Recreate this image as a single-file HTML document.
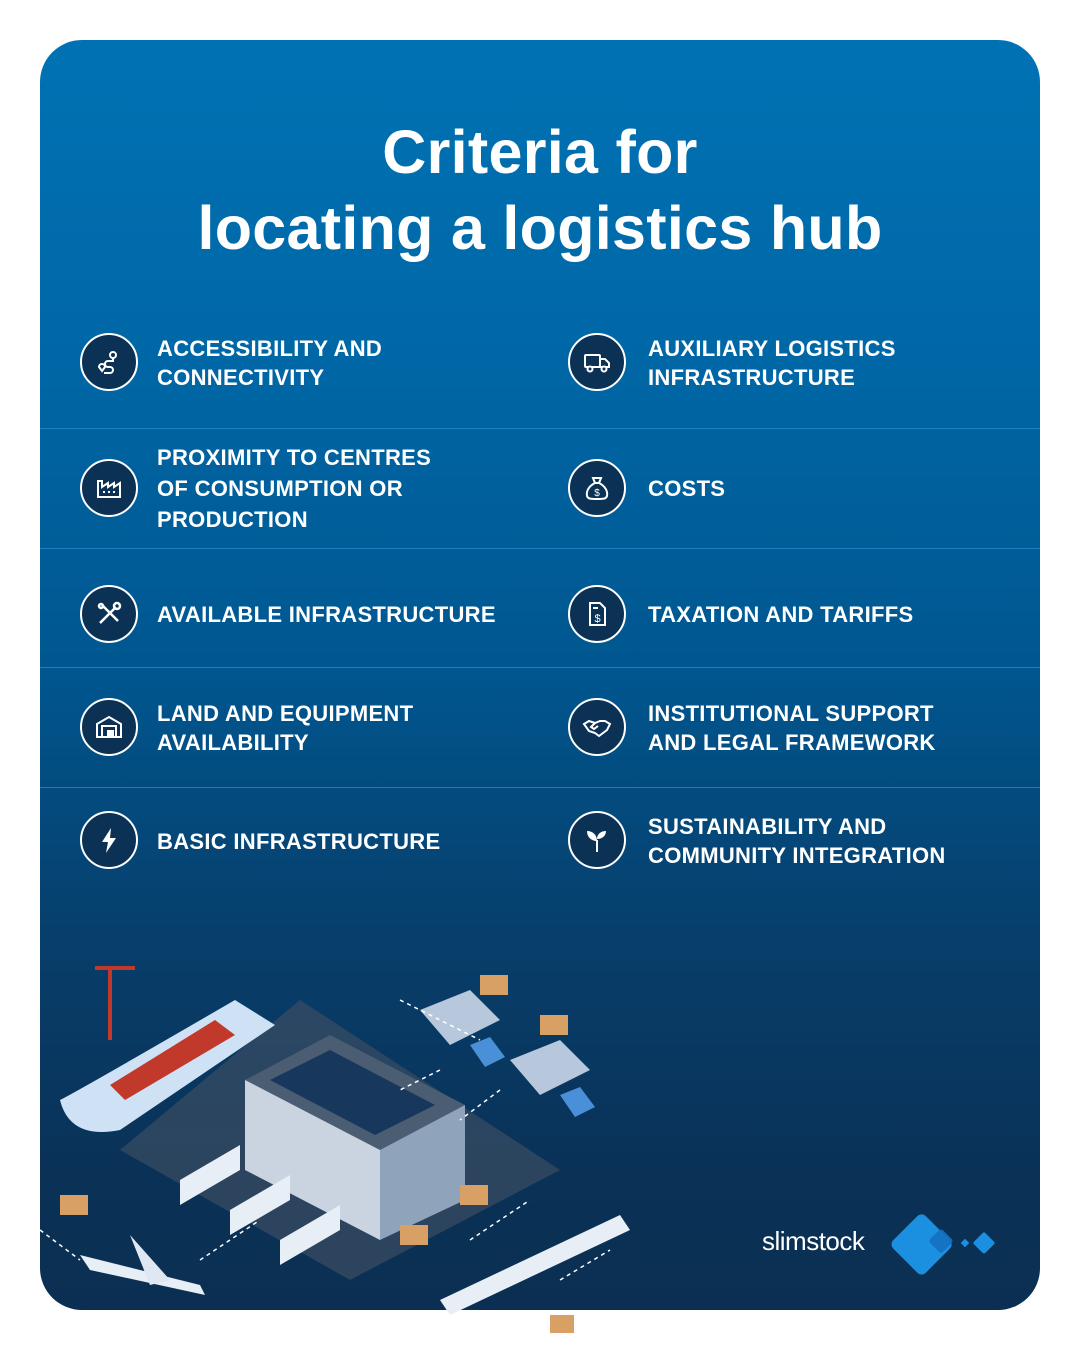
<!DOCTYPE html>
<html><head><meta charset="utf-8"><style>
body{margin:0;width:1080px;height:1350px;background:#fff;position:relative;overflow:hidden;font-family:"Liberation Sans","DejaVu Sans",sans-serif}
.card{position:absolute;left:40px;top:40px;width:1000px;height:1270px;border-radius:42px;overflow:hidden;background:linear-gradient(180deg,#0072b4 0%,#0067a6 25%,#00568f 50%,#073f6c 70%,#0a3156 90%,#0b2f52 100%)}
h1{position:absolute;left:0;top:74px;width:1000px;margin:0;text-align:center;color:#fff;font-weight:bold;font-size:61px;line-height:76px;letter-spacing:0.3px}
.sep{position:absolute;left:0;width:1000px;height:1px;background:#2a8fd0;opacity:.7}
.ic{position:absolute;width:54px;height:54px;border:2.5px solid #fff;border-radius:50%;background:#0b3155;}
.ic svg{position:absolute;left:12px;top:12px}
.t{position:absolute;color:#fff;font-weight:bold;font-size:22px;line-height:29px;letter-spacing:0.3px}
.t3{line-height:31px}
</style></head><body>
<div class="card">
<h1>Criteria for<br>locating a logistics hub</h1>
<div class="sep" style="top:388px"></div>
<div class="sep" style="top:508px"></div>
<div class="sep" style="top:627px"></div>
<div class="sep" style="top:747px"></div>

<div class="ic" style="left:40px;top:293px"><svg width="30" height="30" viewBox="0 0 30 30" fill="none" stroke="#fff" stroke-width="2"><circle cx="19" cy="8" r="3"/><path d="M5 20a3 3 0 1 1 6 0l-3 4z"/><path d="M19 11v3h-5a3 3 0 0 0 0 6h2a3 3 0 0 1 0 6h-6"/></svg></div>
<div class="t" style="left:117px;top:294px">ACCESSIBILITY AND<br>CONNECTIVITY</div>
<div class="ic" style="left:528px;top:293px"><svg width="30" height="30" viewBox="0 0 30 30" fill="none" stroke="#fff" stroke-width="2"><rect x="3" y="8" width="15" height="12" rx="1"/><path d="M18 12h5l4 4v4h-9z"/><circle cx="8" cy="22" r="2.5" fill="#0b3155"/><circle cx="22" cy="22" r="2.5" fill="#0b3155"/></svg></div>
<div class="t" style="left:608px;top:294px">AUXILIARY LOGISTICS<br>INFRASTRUCTURE</div>

<div class="ic" style="left:40px;top:419px"><svg width="30" height="30" viewBox="0 0 30 30" fill="none" stroke="#fff" stroke-width="2"><path d="M4 24V8h4v6l6-4v4l6-4v4l6-4v14z"/><path d="M9 19h2M14 19h2M19 19h2"/></svg></div>
<div class="t t3" style="left:117px;top:402px">PROXIMITY TO CENTRES<br>OF CONSUMPTION OR<br>PRODUCTION</div>
<div class="ic" style="left:528px;top:419px"><svg width="30" height="30" viewBox="0 0 30 30" fill="none" stroke="#fff" stroke-width="2"><path d="M11 5h8l-2 5h-4z"/><path d="M13 10c-6 3-9 8-8 13 1 3 4 3 10 3s9 0 10-3c1-5-2-10-8-13"/><text x="15" y="23" font-size="10" fill="#fff" stroke="none" text-anchor="middle" font-family="Liberation Sans">$</text></svg></div>
<div class="t" style="left:608px;top:434px">COSTS</div>

<div class="ic" style="left:40px;top:545px"><svg width="30" height="30" viewBox="0 0 30 30" fill="none" stroke="#fff" stroke-width="2.5"><path d="M6 24L22 8M8 6l16 16"/><circle cx="23" cy="7" r="3"/><circle cx="7" cy="7" r="2"/></svg></div>
<div class="t" style="left:117px;top:560px">AVAILABLE INFRASTRUCTURE</div>
<div class="ic" style="left:528px;top:545px"><svg width="30" height="30" viewBox="0 0 30 30" fill="none" stroke="#fff" stroke-width="2"><path d="M8 4h10l5 5v17H8z"/><path d="M11 9h5"/><text x="15.5" y="23" font-size="11" fill="#fff" stroke="none" text-anchor="middle" font-family="Liberation Sans">$</text></svg></div>
<div class="t" style="left:608px;top:560px">TAXATION AND TARIFFS</div>

<div class="ic" style="left:40px;top:658px"><svg width="30" height="30" viewBox="0 0 30 30" fill="none" stroke="#fff" stroke-width="2"><path d="M3 12L15 5l12 7v13H3z"/><rect x="8" y="14" width="14" height="11"/><rect x="14" y="19" width="5" height="5" fill="#fff"/></svg></div>
<div class="t" style="left:117px;top:659px">LAND AND EQUIPMENT<br>AVAILABILITY</div>
<div class="ic" style="left:528px;top:658px"><svg width="30" height="30" viewBox="0 0 30 30" fill="none" stroke="#fff" stroke-width="2"><path d="M2 12l5-3 6 2 5-2 5 0 5 3-3 6-8 6-4-3-6-2z"/><path d="M13 11l-4 4 3 2 4-3"/></svg></div>
<div class="t" style="left:608px;top:659px">INSTITUTIONAL SUPPORT<br>AND LEGAL FRAMEWORK</div>

<div class="ic" style="left:40px;top:771px"><svg width="30" height="30" viewBox="0 0 30 30"><path d="M17 3L8 17h6l-2 11 10-15h-6z" fill="#fff"/></svg></div>
<div class="t" style="left:117px;top:787px">BASIC INFRASTRUCTURE</div>
<div class="ic" style="left:528px;top:771px"><svg width="30" height="30" viewBox="0 0 30 30" fill="#fff"><path d="M14 27V15h2v12z"/><path d="M15 16C9 16 5 12 5 6c6 0 10 4 10 10z"/><path d="M15 14c0-5 4-8 9-8 0 5-4 8-9 8z"/></svg></div>
<div class="t" style="left:608px;top:772px">SUSTAINABILITY AND<br>COMMUNITY INTEGRATION</div>

<div style="position:absolute;left:722px;top:1186px;color:#fff;font-size:26px;letter-spacing:-0.5px">slimstock</div>
<svg style="position:absolute;left:848px;top:1170px" width="115" height="72" viewBox="0 0 115 72">
<rect x="12" y="10" width="46" height="46" rx="6" transform="rotate(45 35 33) translate(0,2)" fill="#1b8fe0"/>
<rect x="44" y="22" width="18" height="18" rx="3" transform="rotate(45 53 31)" fill="#1470c0" opacity=".9"/>
<rect x="74" y="30" width="6" height="6" transform="rotate(45 77 33)" fill="#1b8fe0"/>
<rect x="88" y="25" width="16" height="16" rx="2" transform="rotate(45 96 33)" fill="#1b8fe0"/>
</svg>
</div>

<svg style="position:absolute;left:0;top:940px" width="660" height="410" viewBox="0 940 660 410">
<path d="M300 1000 L560 1170 L350 1280 L120 1150 Z" fill="#3a4d63" opacity=".7"/>
<path d="M60 1100 Q80 1090 235 1000 L275 1025 L120 1130 Q70 1140 60 1100Z" fill="#cfe2f5"/>
<path d="M110 1085 L215 1020 L235 1035 L125 1100Z" fill="#c0392b"/>
<path d="M245 1080 L330 1035 L465 1105 L380 1150Z" fill="#4b5d72"/>
<path d="M270 1080 L330 1050 L435 1105 L375 1135Z" fill="#17375c"/>
<path d="M245 1080 L380 1150 L380 1240 L245 1170Z" fill="#c9d4e0"/>
<path d="M380 1150 L465 1105 L465 1200 L380 1240Z" fill="#8fa3ba"/>
<g fill="#e8eef5"><path d="M180 1180l60-35v25l-60 35z"/><path d="M230 1210l60-35v25l-60 35z"/><path d="M280 1240l60-35v25l-60 35z"/></g>
<g fill="#b8c8dc"><path d="M420 1010l50-20 30 30-50 25z"/><path d="M510 1060l50-20 30 30-50 25z"/></g>
<g fill="#4a90d9"><path d="M470 1045l20-8 15 20-20 10z"/><path d="M560 1095l20-8 15 20-20 10z"/></g>
<path d="M80 1255 L200 1285 L205 1295 L90 1270Z" fill="#e8eef5"/>
<path d="M130 1235 L170 1280 L150 1285Z" fill="#dfe8f2"/>
<path d="M440 1300 L620 1215 L630 1230 L450 1315Z" fill="#e8eef5"/>
<g fill="#d9a066"><rect x="480" y="975" width="28" height="20"/><rect x="540" y="1015" width="28" height="20"/><rect x="60" y="1195" width="28" height="20"/><rect x="460" y="1185" width="28" height="20"/><rect x="400" y="1225" width="28" height="20"/><rect x="550" y="1315" width="24" height="18"/></g>
<path d="M110 970v70M95 968h40" stroke="#c0392b" stroke-width="4"/>
<g stroke="#fff" stroke-dasharray="4 4" stroke-width="1.5" fill="none"><path d="M400 1000l80 40M440 1070l-40 20M500 1090l-40 30M40 1230l40 30M200 1260l60-40M470 1240l60-40M560 1280l50-30"/></g>
</svg>
</body></html>
